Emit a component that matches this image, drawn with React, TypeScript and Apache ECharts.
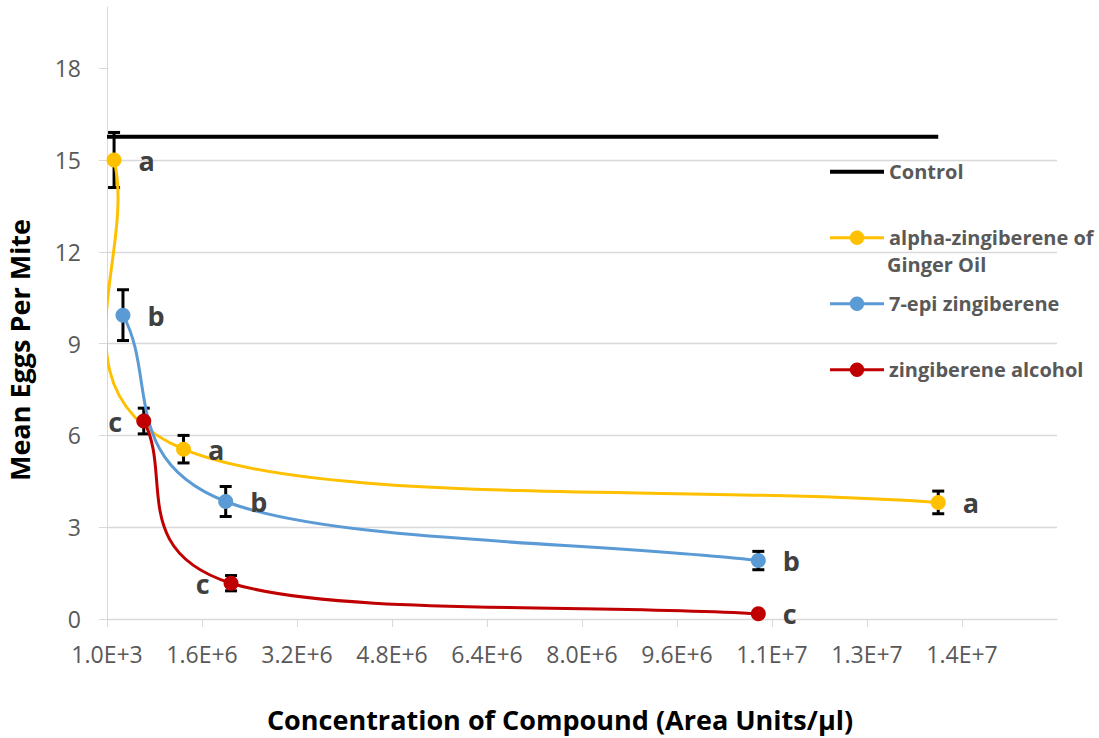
import React, { useEffect, useRef } from "react";
import * as echarts from "echarts";

const FONT = "'Open Sans', 'Noto Sans', sans-serif";

// Axis ticks
const xTicks = [1000, 1601000, 3201000, 4801000, 6401000, 8001000, 9601000, 11201000, 12801000, 14401000];
const xTickLabels = ["1.0E+3", "1.6E+6", "3.2E+6", "4.8E+6", "6.4E+6", "8.0E+6", "9.6E+6", "1.1E+7", "1.3E+7", "1.4E+7"];
const yTicks = [0, 3, 6, 9, 12, 15, 18];

// Series names
const seriesNames = ["Control", "alpha-zingiberene of Ginger Oil", "7-epi zingiberene", "zingiberene alcohol"];

// Control
const controlX = [1000, 14000000];
const controlY = [15.76, 15.76];

// alpha-zingiberene of Ginger Oil
const alphaX = [120000, 1290000, 14000000];
const alphaY = [15.0, 5.55, 3.81];
const alphaErr = [0.9, 0.45, 0.37];
const alphaLetters = ["a", "a", "a"];

// 7-epi zingiberene
const epiX = [270000, 2000000, 10970000];
const epiY = [9.93, 3.84, 1.91];
const epiErr = [0.83, 0.49, 0.3];
const epiLetters = ["b", "b", "b"];

// zingiberene alcohol
const alcX = [620000, 2090000, 10970000];
const alcY = [6.47, 1.17, 0.17];
const alcErr = [0.42, 0.25, 0.05];
const alcLetters = ["c", "c", "c"];

const COLORS = ["#000000", "#FFC000", "#5B9BD5", "#C00000"];

function xLabel(v: number) {
  const i = xTicks.findIndex((t) => Math.abs(t - v) < 1);
  return i >= 0 ? xTickLabels[i] : "";
}

// Smoothed line in the style of a spreadsheet "smoothed line" (cardinal spline, reflected end points)
function curveSeries(xs: number[], ys: number[], color: string) {
  const n = xs.length;
  return {
    type: "custom",
    coordinateSystem: "cartesian2d",
    clip: true,
    silent: true,
    z: 2,
    data: xs.map((x, i) => [x, ys[i]]),
    encode: { x: 0, y: 1 },
    renderItem: (params: any, api: any) => {
      const i = params.dataIndex;
      if (i >= n - 1) return { type: "group", children: [] };
      const P = (k: number) => api.coord([xs[k], ys[k]]);
      const p1 = P(i), p2 = P(i + 1);
      const p0 = i - 1 >= 0 ? P(i - 1) : [2 * p1[0] - p2[0], 2 * p1[1] - p2[1]];
      const p3 = i + 2 <= n - 1 ? P(i + 2) : [2 * p2[0] - p1[0], 2 * p2[1] - p1[1]];
      const c1 = [p1[0] + (p2[0] - p0[0]) / 6, p1[1] + (p2[1] - p0[1]) / 6];
      const c2 = [p2[0] - (p3[0] - p1[0]) / 6, p2[1] - (p3[1] - p1[1]) / 6];
      return {
        type: "bezierCurve",
        shape: { x1: p1[0], y1: p1[1], x2: p2[0], y2: p2[1], cpx1: c1[0], cpy1: c1[1], cpx2: c2[0], cpy2: c2[1] },
        style: { stroke: color, lineWidth: 3, fill: null },
      };
    },
  };
}

function errSeries(xs: number[], ys: number[], errs: number[]) {
  return {
    type: "custom",
    coordinateSystem: "cartesian2d",
    silent: true,
    z: 1,
    data: xs.map((x, i) => [x, ys[i], errs[i]]),
    encode: { x: 0, y: 1 },
    renderItem: (params: any, api: any) => {
      const x = api.value(0), y = api.value(1), e = api.value(2);
      const t = api.coord([x, y + e]);
      const b = api.coord([x, y - e]);
      const cw = 6;
      const st = { stroke: "#000", lineWidth: 3 };
      return {
        type: "group",
        children: [
          { type: "line", shape: { x1: t[0], y1: t[1], x2: b[0], y2: b[1] }, style: st },
          { type: "line", shape: { x1: t[0] - cw, y1: t[1], x2: t[0] + cw, y2: t[1] }, style: st },
          { type: "line", shape: { x1: b[0] - cw, y1: b[1], x2: b[0] + cw, y2: b[1] }, style: st },
        ],
      };
    },
  };
}

function markerSeries(name: string, xs: number[], ys: number[], letters: string[], color: string, leftIdx: number[]) {
  return {
    type: "line",
    name,
    z: 3,
    symbol: "circle",
    symbolSize: 15,
    showAllSymbol: true,
    itemStyle: { color },
    lineStyle: { color, width: 3, opacity: 0 },
    data: xs.map((x, i) => ({
      value: [x, ys[i]],
      label: {
        show: true,
        formatter: letters[i],
        position: leftIdx.includes(i) ? "left" : "right",
        distance: leftIdx.includes(i) ? 14 : 17,
        fontSize: 27,
        fontWeight: "bold",
        color: "#404040",
        fontFamily: FONT,
      },
    })),
  };
}

export default function App() {
  const ref = useRef<HTMLDivElement>(null);
  useEffect(() => {
    if (!ref.current) return;
    const chart = echarts.init(ref.current, null, { renderer: "svg" });
    const option: any = {
      animation: false,
      backgroundColor: "#ffffff",
      textStyle: { fontFamily: FONT },
      grid: { left: 107, right: 42, top: 7, bottom: 119, containLabel: false, outerBoundsMode: "none" },
      xAxis: {
        type: "value",
        min: 1000,
        max: 16000000,
        axisLine: { show: true, lineStyle: { color: "#d9d9d9", width: 1 } },
        axisTick: { show: true, length: 8, lineStyle: { color: "#d9d9d9" }, customValues: xTicks },
        axisLabel: { customValues: xTicks, formatter: xLabel, fontSize: 23, color: "#595959", margin: 23, fontFamily: FONT },
        splitLine: { show: false },
        name: "Concentration of Compound (Area Units/µl)",
        nameLocation: "middle",
        nameGap: 87,
        nameTextStyle: { fontSize: 27, fontWeight: "bold", color: "#000", fontFamily: FONT, padding: [0, 44, 0, 0] },
      },
      yAxis: {
        type: "value",
        min: 0,
        max: 20,
        interval: 3,
        axisLine: { show: true, lineStyle: { color: "#d9d9d9", width: 1 } },
        axisTick: { show: true, length: 8, lineStyle: { color: "#d9d9d9" }, customValues: yTicks },
        axisLabel: { customValues: yTicks, fontSize: 23, color: "#595959", margin: 26, fontFamily: FONT },
        splitLine: { show: true, showMaxLine: false, lineStyle: { color: "#d9d9d9", width: 1.3 } },
        name: "Mean Eggs Per Mite",
        nameLocation: "middle",
        nameGap: 74,
        nameTextStyle: { fontSize: 27, fontWeight: "bold", color: "#000", fontFamily: FONT, padding: [0, 74, 0, 0] },
      },
      legend: {
        orient: "vertical",
        left: 828,
        top: 161.7,
        padding: 0,
        itemWidth: 54,
        itemHeight: 18,
        itemGap: 46,
        selectedMode: false,
        data: [
          { name: seriesNames[0], itemStyle: { opacity: 0 }, lineStyle: { width: 4 } },
          seriesNames[1],
          seriesNames[2],
          seriesNames[3],
        ],
        formatter: (name: string) => (name === seriesNames[1] ? "alpha-zingiberene of" : name),
        textStyle: { fontSize: 20, fontWeight: "bold", color: "#595959", fontFamily: FONT, lineHeight: 20 },
        lineStyle: { opacity: 1, width: 3 },
      },
      graphic: [
        {
          type: "text",
          left: 887,
          top: 254,
          style: { text: "Ginger Oil", fontSize: 20, fontWeight: "bold", fill: "#595959", fontFamily: FONT },
        },
      ],
      series: [
        {
          type: "line",
          name: seriesNames[0],
          z: 2,
          symbol: "none",
          data: controlX.map((x, i) => [x, controlY[i]]),
          lineStyle: { color: COLORS[0], width: 4 },
          itemStyle: { color: COLORS[0] },
        },
        errSeries(alphaX, alphaY, alphaErr),
        errSeries(epiX, epiY, epiErr),
        errSeries(alcX, alcY, alcErr),
        curveSeries(alphaX, alphaY, COLORS[1]),
        curveSeries(epiX, epiY, COLORS[2]),
        curveSeries(alcX, alcY, COLORS[3]),
        markerSeries(seriesNames[1], alphaX, alphaY, alphaLetters, COLORS[1], []),
        markerSeries(seriesNames[2], epiX, epiY, epiLetters, COLORS[2], []),
        markerSeries(seriesNames[3], alcX, alcY, alcLetters, COLORS[3], [0, 1]),
      ],
    };
    chart.setOption(option);
    return () => chart.dispose();
  }, []);
  return (
    <div
      ref={ref}
      style={{ position: "absolute", left: 0, top: 0, width: 1099, height: 738, background: "#fff" }}
    />
  );
}
